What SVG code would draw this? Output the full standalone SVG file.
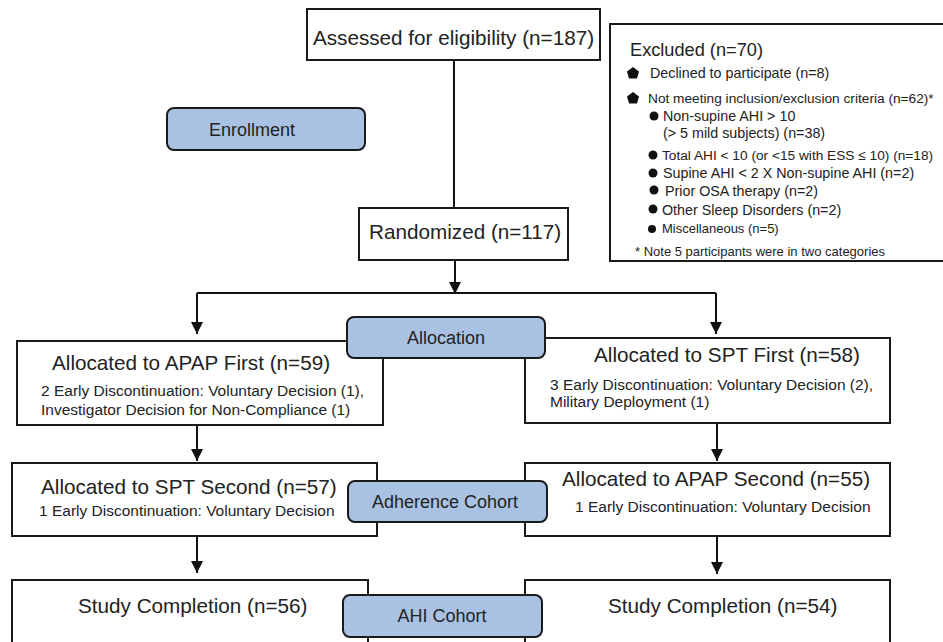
<svg xmlns="http://www.w3.org/2000/svg" width="943" height="642" viewBox="0 0 943 642">
<defs>
<marker id="ah" markerUnits="userSpaceOnUse" markerWidth="12" markerHeight="12" viewBox="0 0 12 12" refX="12" refY="6" orient="auto">
<path d="M0,0 L12,6 L0,12 Z" fill="#111"/>
</marker>
<style>
text{font-family:"Liberation Sans",Arial,sans-serif;fill:#222}
.box{fill:#fff;stroke:#1a1a1a;stroke-width:2}
.tag{fill:#a9c2e4;stroke:#1a1a1a;stroke-width:2}
.ln{fill:none;stroke:#111;stroke-width:2}
.arr{fill:none;stroke:#111;stroke-width:2;marker-end:url(#ah)}
.t1{font-size:20.7px}
.t2{font-size:15.5px}
.tg{font-size:18px}
.ex{font-size:14.3px}
.exs{font-size:13.7px}
.bul{fill:#111}
</style>
</defs>
<g id="connectors">
<line class="ln" x1="454" y1="60" x2="454" y2="208"/>
<line class="arr" x1="455" y1="260" x2="455" y2="294"/>
<polyline class="ln" points="197,293 716,293"/>
<line class="arr" x1="197" y1="293" x2="197" y2="334"/>
<line class="arr" x1="716" y1="293" x2="716" y2="334"/>
<line class="arr" x1="197" y1="425" x2="197" y2="461"/>
<line class="arr" x1="717" y1="423" x2="717" y2="461"/>
<line class="arr" x1="197" y1="536" x2="197" y2="573"/>
<line class="arr" x1="717" y1="536" x2="717" y2="574"/>
</g>
<g id="assessed">
<rect class="box" x="307" y="9" width="293" height="51"/>
<text class="t1" x="453.5" y="45" text-anchor="middle">Assessed for eligibility (n=187)</text>
</g>
<g id="excluded">
<rect class="box" x="610" y="24" width="345" height="237"/>
<text x="630" y="56" style="font-size:18.2px">Excluded (n=70)</text>
<polygon class="bul" points="633,67 639,71.5 637,78.5 629,78.5 627,71.5"/>
<text class="ex" x="650" y="78">Declined to participate (n=8)</text>
<polygon class="bul" points="633,92 639,96.5 637,103.5 629,103.5 627,96.5"/>
<text class="exs" x="648" y="103">Not meeting inclusion/exclusion criteria (n=62)*</text>
<circle class="bul" cx="654" cy="116" r="4.5"/>
<text class="ex" x="663" y="121">Non-supine AHI &gt; 10</text>
<text class="ex" x="663" y="138">(&gt; 5 mild subjects)  (n=38)</text>
<circle class="bul" cx="653" cy="155" r="4.5"/>
<text class="exs" x="662" y="160">Total AHI &lt; 10 (or &lt;15 with ESS ≤ 10) (n=18)</text>
<circle class="bul" cx="653" cy="173" r="4.5"/>
<text class="ex" x="663" y="178">Supine AHI &lt; 2 X Non-supine AHI (n=2)</text>
<circle class="bul" cx="654" cy="190" r="4.5"/>
<text class="ex" x="665" y="196">Prior OSA therapy (n=2)</text>
<circle class="bul" cx="653" cy="209" r="4.5"/>
<text class="ex" x="662" y="215">Other Sleep Disorders (n=2)</text>
<circle class="bul" cx="652" cy="229" r="4"/>
<text x="662" y="233" style="font-size:13px">Miscellaneous (n=5)</text>
<text x="635" y="256" style="font-size:13px">* Note 5 participants were in two categories</text>
</g>
<g id="enrollment">
<rect class="tag" x="167" y="108" width="198" height="42" rx="7"/>
<text class="tg" x="209" y="136">Enrollment</text>
</g>
<g id="randomized">
<rect class="box" x="359" y="208" width="209" height="52"/>
<text class="t1" x="369" y="239">Randomized (n=117)</text>
</g>
<g id="apap-first">
<rect class="box" x="17" y="341" width="366" height="84"/>
<text class="t1" x="52" y="370">Allocated to APAP First (n=59)</text>
<text class="t2" x="41" y="396">2 Early Discontinuation: Voluntary Decision (1),</text>
<text class="t2" x="41" y="415">Investigator Decision for Non-Compliance (1)</text>
</g>
<g id="spt-first">
<rect class="box" x="525" y="338" width="365" height="85"/>
<text class="t1" x="594" y="362">Allocated to SPT First (n=58)</text>
<text class="t2" x="550" y="390">3 Early Discontinuation: Voluntary Decision (2),</text>
<text class="t2" x="550" y="407">Military Deployment (1)</text>
</g>
<g id="allocation">
<rect class="tag" x="347" y="317" width="198" height="41" rx="7"/>
<text class="tg" x="446" y="344" text-anchor="middle">Allocation</text>
</g>
<g id="spt-second">
<rect class="box" x="12" y="463" width="365" height="73"/>
<text class="t1" x="41" y="494">Allocated to SPT Second (n=57)</text>
<text class="t2" x="39" y="516">1 Early Discontinuation: Voluntary Decision</text>
</g>
<g id="apap-second">
<rect class="box" x="525" y="463" width="365" height="73"/>
<text class="t1" x="562" y="486">Allocated to APAP Second (n=55)</text>
<text class="t2" x="575" y="512">1 Early Discontinuation: Voluntary Decision</text>
</g>
<g id="adherence">
<rect class="tag" x="348" y="481" width="199" height="41" rx="7"/>
<text class="tg" x="445" y="508" text-anchor="middle">Adherence Cohort</text>
</g>
<g id="completion-left">
<rect class="box" x="12" y="580" width="356" height="80"/>
<text class="t1" x="78" y="613">Study Completion (n=56)</text>
</g>
<g id="completion-right">
<rect class="box" x="525" y="580" width="365" height="80"/>
<text class="t1" x="608" y="613">Study Completion (n=54)</text>
</g>
<g id="ahi">
<rect class="tag" x="343" y="595" width="199" height="42" rx="7"/>
<text class="tg" x="442" y="622" text-anchor="middle">AHI Cohort</text>
</g>
</svg>
